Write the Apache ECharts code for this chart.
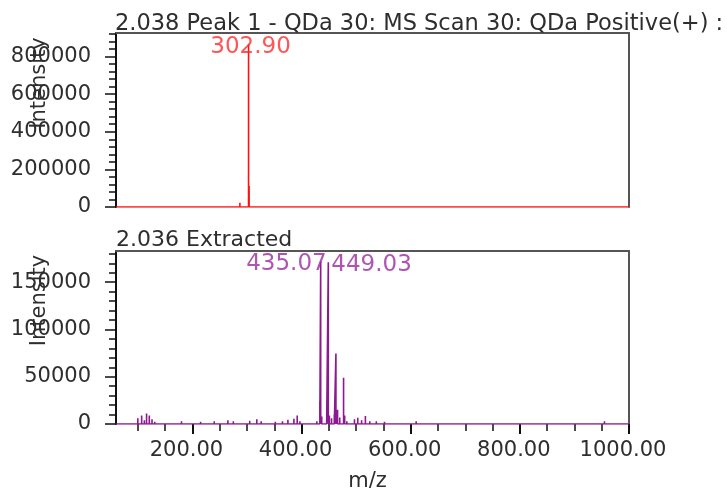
<!DOCTYPE html>
<html>
<head>
<meta charset="utf-8">
<script src="https://cdn.jsdelivr.net/npm/echarts@6/dist/echarts.min.js"></script>
<style>
  html, body { margin: 0; padding: 0; background: #fff; }
  #chart { width: 727px; height: 488px; }
</style>
</head>
<body>
<div id="chart"></div>
<script>
// Upper trace: peak spectrum at 2.038 min (m/z, intensity)
const topMz = [68, 83, 104, 132, 287, 290, 302.90, 303.90, 305, 318, 324, 461, 482, 503, 546, 600, 720, 870];
const topIntensity = [6000, 5000, 7000, 5000, 23000, 8000, 865000, 112000, 10000, 9000, 7000, 6000, 5000, 6000, 4000, 3000, 3000, 2500];
const topLabeled = [302.90];

// Lower trace: extracted spectrum at 2.036 min
const bottomMz = [100, 107, 112, 116, 121, 126, 131, 148, 165, 180, 190, 200, 215, 228, 240, 252, 265, 275, 290, 305,
  318, 326, 340, 352, 365, 375, 386, 392, 397, 405, 418, 428, 433.5, 435.07, 437, 446, 449.03, 451, 455, 460,
  463, 466, 470, 477, 479, 483, 490, 497, 503, 510, 517, 525, 537, 552, 580, 610, 640, 680, 700, 713, 740, 768, 850, 955];
const bottomIntensity = [6000, 9000, 4000, 11000, 9000, 5000, 2500, 2000, 1500, 3000, 2000, 1500, 2500, 2000, 3000, 2000, 4000, 3000, 2000, 3500,
  5000, 3000, 2000, 2500, 3000, 4500, 5500, 9000, 3000, 2000, 1500, 3000, 24000, 172000, 8000, 4000, 171000, 9000, 6000, 10000,
  74500, 15000, 7000, 49000, 9000, 3000, 2000, 5000, 6500, 4000, 8500, 3000, 3000, 2500, 1000, 3000, 1500, 1500, 1000, 2000, 1000, 2000, 1000, 3000];
const bottomLabeled = [435.07, 449.03];

// Axis ranges and tick labels
const mzRange = [60, 1000];
const topRangeMax = 925000;
const bottomRangeMax = 183000;
const xTickLabels = [200, 400, 600, 800, 1000];
const topYTicks = [0, 200000, 400000, 600000, 800000];
const bottomYTicks = [0, 50000, 100000, 150000];

const FONT = 'DejaVu Sans';
const TEXT = '#2e2e2e';
const AXIS = '#111111';
const FRAME = '#555555';
const RED = '#ff1010';
const PURPLE = '#8b1a8e';

// Turn a centroid list into a stick trace along the zero line
function sticks(mz, inten) {
  const pts = [[mzRange[0], 0]];
  mz.forEach((m, i) => { pts.push([m, 0], [m, inten[i]], [m, 0]); });
  pts.push([mzRange[1], 0]);
  return pts;
}
function steps(from, to, step) {
  const out = [];
  for (let v = from; v <= to + 1e-9; v += step) out.push(v);
  return out;
}
function labelPoints(labeled, mz, inten, aligns, offsets, color) {
  return labeled.map((m, k) => {
    const i = mz.indexOf(m);
    return {
      value: [mz[i], inten[i]],
      label: { align: aligns[k], offset: offsets[k], color: color }
    };
  });
}

const grids = [
  { left: 116, top: 33, width: 513, height: 174, outerBoundsMode: 'none', containLabel: false },
  { left: 116, top: 251, width: 513, height: 173, outerBoundsMode: 'none', containLabel: false }
];

const hidden = { axisLine: { show: false }, axisTick: { show: false }, axisLabel: { show: false }, splitLine: { show: false } };
function frameAxis(type, gridIndex, position, max) {
  return Object.assign({}, hidden, {
    type: 'value', gridIndex: gridIndex, position: position,
    min: type === 'x' ? mzRange[0] : 0, max: max,
    axisLine: { show: true, onZero: false, lineStyle: { color: FRAME, width: 2 } }
  });
}
function minorAxis(gridIndex, position, max, values, min) {
  return Object.assign({}, hidden, {
    type: 'value', gridIndex: gridIndex, position: position, min: min, max: max,
    axisTick: { show: true, customValues: values, length: 7, lineStyle: { color: AXIS, width: 1.5 } }
  });
}
function yMain(gridIndex, max, ticks) {
  return {
    type: 'value', gridIndex: gridIndex, position: 'left', min: 0, max: max,
    name: 'Intensity', nameLocation: 'middle', nameRotate: 90, nameGap: 66, nameMoveOverlap: false,
    nameTextStyle: { fontFamily: FONT, fontSize: 21, color: TEXT, padding: [0, 0, 0, 74] },
    axisLine: { show: true, onZero: false, lineStyle: { color: AXIS, width: 2 } },
    axisTick: { show: true, customValues: ticks, length: 11, lineStyle: { color: AXIS, width: 1.5 } },
    axisLabel: { customValues: ticks, margin: 25, fontFamily: FONT, fontSize: 21, color: TEXT,
      formatter: v => String(v) },
    splitLine: { show: false }
  };
}

const chart = echarts.init(document.getElementById('chart'), null, { renderer: 'canvas' });
chart.setOption({
  animation: false,
  backgroundColor: '#ffffff',
  title: [
    { text: '2.038 Peak 1 - QDa 30: MS Scan 30: QDa Positive(+) :', left: 110, top: 8,
      textStyle: { fontFamily: FONT, fontSize: 22.5, fontWeight: 'normal', color: TEXT } },
    { text: '2.036 Extracted', left: 111, top: 224,
      textStyle: { fontFamily: FONT, fontSize: 22, fontWeight: 'normal', color: TEXT } }
  ],
  grid: grids,
  xAxis: [
    Object.assign({}, hidden, { type: 'value', gridIndex: 0, min: mzRange[0], max: mzRange[1] }),
    {
      type: 'value', gridIndex: 1, min: mzRange[0], max: mzRange[1],
      name: 'm/z', nameLocation: 'middle', nameGap: 47, nameMoveOverlap: false,
      nameTextStyle: { fontFamily: FONT, fontSize: 21, color: TEXT, padding: [0, 10, 0, 0] },
      axisLine: { show: false },
      axisTick: { show: true, customValues: xTickLabels, length: 10, lineStyle: { color: AXIS, width: 2 } },
      axisLabel: { customValues: xTickLabels, margin: 16, fontFamily: FONT, fontSize: 21, color: TEXT,
        padding: [0, 12, 0, 0], formatter: v => v.toFixed(2) },
      splitLine: { show: false }
    },
    minorAxis(1, 'bottom', mzRange[1], steps(100, 1000, 50), mzRange[0]),
    frameAxis('x', 0, 'top', mzRange[1]),
    frameAxis('x', 1, 'top', mzRange[1])
  ],
  yAxis: [
    yMain(0, topRangeMax, topYTicks),
    minorAxis(0, 'left', topRangeMax, steps(0, 920000, 40000), 0),
    yMain(1, bottomRangeMax, bottomYTicks),
    minorAxis(1, 'left', bottomRangeMax, steps(0, 180000, 10000), 0),
    frameAxis('y', 0, 'right', topRangeMax),
    frameAxis('y', 1, 'right', bottomRangeMax)
  ],
  series: [
    {
      type: 'line', xAxisIndex: 0, yAxisIndex: 0, data: sticks(topMz, topIntensity),
      symbol: 'none', lineStyle: { color: RED, width: 1.6 }, z: 3
    },
    {
      type: 'line', xAxisIndex: 1, yAxisIndex: 2, data: sticks(bottomMz, bottomIntensity),
      symbol: 'none', lineStyle: { color: PURPLE, width: 1.6 }, z: 3
    },
    {
      type: 'scatter', xAxisIndex: 0, yAxisIndex: 0, symbolSize: 0.1, z: 5,
      itemStyle: { color: 'rgba(0,0,0,0)' },
      label: { show: true, position: 'inside', fontFamily: FONT, fontSize: 23,
        formatter: p => p.value[0].toFixed(2) },
      data: labelPoints(topLabeled, topMz, topIntensity, ['center'], [[2, 3]], '#ff2a2a')
    },
    {
      type: 'scatter', xAxisIndex: 1, yAxisIndex: 2, symbolSize: 0.1, z: 5,
      itemStyle: { color: 'rgba(0,0,0,0)' },
      label: { show: true, position: 'inside', fontFamily: FONT, fontSize: 23,
        formatter: p => p.value[0].toFixed(2) },
      data: labelPoints(bottomLabeled, bottomMz, bottomIntensity, ['right', 'left'], [[6, 3], [3, 3]], '#9a2a9e')
    }
  ]
});
</script>
</body>
</html>
